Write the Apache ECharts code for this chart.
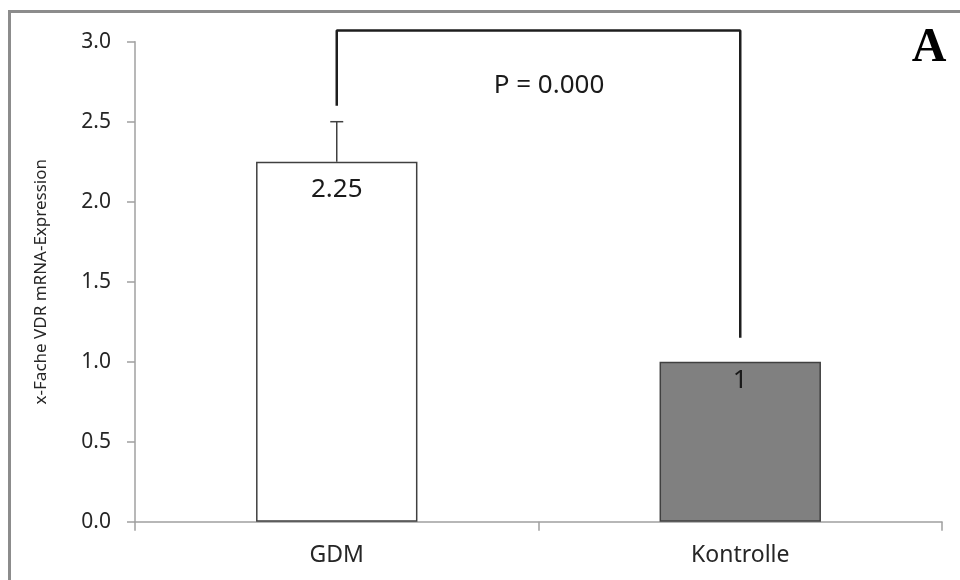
<!DOCTYPE html>
<html>
<head>
<meta charset="utf-8">
<script src="https://cdn.jsdelivr.net/npm/echarts@6/dist/echarts.min.js"></script>
<style>
html,body{margin:0;padding:0;background:#fff;}
#chart{width:960px;height:580px;}
</style>
</head>
<body>
<div id="chart"></div>
<script>
// ---- data ----
var categories = ['GDM', 'Kontrolle'];
var values = [2.25, 1];
var errorUpper = [2.5, null];
var barColors = ['#ffffff', '#808080'];
var bracketX = [0, 0, 1, 1];
var bracketY = [2.6, 3.07, 3.07, 1.15];
var pText = 'P = 0.000';
var panelLetter = 'A';
var yMin = 0, yMax = 3, yInterval = 0.5;
var yAxisName = 'x-Fache VDR mRNA-Expression';

// ---- build ----
var labelDistances = [15, 6];
var barData = values.map(function (v, i) {
  return {
    value: v,
    itemStyle: { color: barColors[i], borderColor: '#404040', borderWidth: 1.5 },
    label: { distance: labelDistances[i] }
  };
});
var errData = [];
errorUpper.forEach(function (u, i) {
  if (u != null) errData.push([i, values[i], u]);
});
var bracketData = bracketX.map(function (x, i) { return [x, bracketY[i]]; });

var chart = echarts.init(document.getElementById('chart'), null, { renderer: 'canvas' });
var font = 'Noto Sans';
chart.setOption({
  backgroundColor: '#ffffff',
  animation: false,
  grid: { left: 135, right: 18, top: 41.7, bottom: 58.3, containLabel: false },
  xAxis: {
    type: 'category',
    data: categories,
    axisLine: { lineStyle: { color: '#a0a0a0', width: 1.5 } },
    axisTick: { show: true, length: 9, alignWithLabel: false, lineStyle: { color: '#a0a0a0', width: 1.5 } },
    axisLabel: { margin: 22.5, fontSize: 23, fontFamily: font, color: '#262626', lineHeight: 23 },
    splitLine: { show: false }
  },
  yAxis: {
    type: 'value',
    min: yMin, max: yMax, interval: yInterval,
    name: yAxisName,
    nameLocation: 'middle',
    nameGap: 85,
    nameRotate: 90,
    nameTextStyle: { fontSize: 17, fontFamily: font, color: '#262626' },
    axisLine: { show: true, lineStyle: { color: '#a0a0a0', width: 1.5 } },
    axisTick: { show: true, length: 8, lineStyle: { color: '#a0a0a0', width: 1.5 } },
    axisLabel: {
      margin: 24, fontSize: 21, fontFamily: font, color: '#262626',
      formatter: function (v) { return v.toFixed(1); }
    },
    splitLine: { show: false }
  },
  series: [
    {
      type: 'bar',
      data: barData,
      barWidth: '40%',
      label: {
        show: true, position: 'insideTop',
        fontSize: 26, lineHeight: 26, fontFamily: font, color: '#1a1a1a',
        formatter: function (p) { return String(p.value); }
      },
      z: 2
    },
    {
      type: 'custom',
      data: errData,
      clip: false,
      renderItem: function (params, api) {
        var base = api.coord([api.value(0), api.value(1)]);
        var top = api.coord([api.value(0), api.value(2)]);
        var half = 6.5;
        return {
          type: 'group',
          children: [
            { type: 'line', shape: { x1: base[0], y1: base[1], x2: top[0], y2: top[1] },
              style: { stroke: '#404040', lineWidth: 1.5 } },
            { type: 'line', shape: { x1: top[0] - half, y1: top[1], x2: top[0] + half, y2: top[1] },
              style: { stroke: '#404040', lineWidth: 1.5 } }
          ]
        };
      },
      z: 3
    },
    {
      type: 'line',
      data: bracketData,
      symbol: 'none',
      clip: false,
      lineStyle: { color: '#1e1e1e', width: 2.5 },
      silent: true,
      z: 4
    }
  ],
  graphic: [
    { type: 'rect', shape: { x: 9.5, y: 11.5, width: 1000, height: 1000 },
      style: { fill: null, stroke: '#8c8c8c', lineWidth: 3 }, silent: true },
    { type: 'text', x: 549, y: 86, style: { text: pText, fontSize: 26, fontFamily: font,
      fill: '#1a1a1a', align: 'center', verticalAlign: 'middle' } },
    { type: 'text', x: 929, y: 49, style: { text: panelLetter, fontSize: 48, fontWeight: 'bold',
      fontFamily: 'Liberation Serif', fill: '#000', align: 'center', verticalAlign: 'middle' } }
  ]
});
</script>
</body>
</html>
